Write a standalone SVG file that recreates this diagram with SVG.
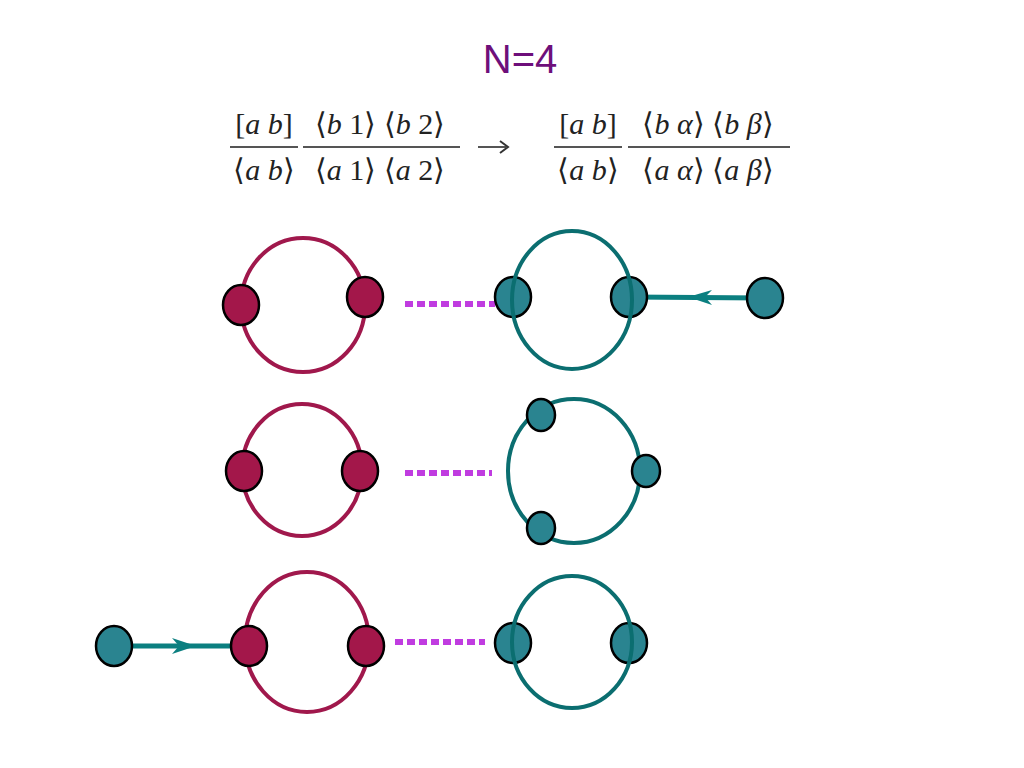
<svg xmlns="http://www.w3.org/2000/svg" width="1024" height="768" viewBox="0 0 1024 768">
<defs>
<style>
.rr{fill:none;stroke:#a0184c;stroke-width:4}
.tr{fill:none;stroke:#0b6e70;stroke-width:4}
.rd{fill:#a3174a;stroke:#000;stroke-width:2.5}
.td{fill:#2a8490;stroke:#000;stroke-width:2.5}
.dl{stroke:#c03ce0;stroke-width:6;stroke-dasharray:8,4}
.ar{stroke:#0b7f80;stroke-width:5}
.f{font-family:"Liberation Serif",serif;font-size:30px;fill:#222}
.fl{stroke:#555;stroke-width:2}
</style>
</defs>
<rect width="1024" height="768" fill="#fff"/>
<text x="520" y="73" text-anchor="middle" font-family="Liberation Sans,Arial,sans-serif" font-size="40" fill="#6e0f7a">N=4</text>
<g id="formula">
<text class="f" x="264" y="134" text-anchor="middle">[<tspan font-style="italic">a b</tspan>]</text>
<line class="fl" x1="230" y1="147" x2="298" y2="147"/>
<text class="f" x="264" y="180" text-anchor="middle">⟨<tspan font-style="italic">a b</tspan>⟩</text>
<text class="f" x="380" y="134" text-anchor="middle">⟨<tspan font-style="italic">b</tspan> 1⟩ ⟨<tspan font-style="italic">b</tspan> 2⟩</text>
<line class="fl" x1="303" y1="147" x2="460" y2="147"/>
<text class="f" x="380" y="180" text-anchor="middle">⟨<tspan font-style="italic">a</tspan> 1⟩ ⟨<tspan font-style="italic">a</tspan> 2⟩</text>
<line class="fl" x1="478" y1="147" x2="506" y2="147"/>
<path d="M500,141 L508,147 L500,153" fill="none" stroke="#333" stroke-width="2"/>
<text class="f" x="588" y="134" text-anchor="middle">[<tspan font-style="italic">a b</tspan>]</text>
<line class="fl" x1="554" y1="147" x2="622" y2="147"/>
<text class="f" x="588" y="180" text-anchor="middle">⟨<tspan font-style="italic">a b</tspan>⟩</text>
<text class="f" x="708" y="134" text-anchor="middle">⟨<tspan font-style="italic">b α</tspan>⟩ ⟨<tspan font-style="italic">b β</tspan>⟩</text>
<line class="fl" x1="628" y1="147" x2="790" y2="147"/>
<text class="f" x="708" y="180" text-anchor="middle">⟨<tspan font-style="italic">a α</tspan>⟩ ⟨<tspan font-style="italic">a β</tspan>⟩</text>
</g>
<g id="connectors">
<line class="dl" x1="405" y1="304" x2="495" y2="304"/>
<line class="dl" x1="405" y1="473" x2="492" y2="473"/>
<line class="dl" x1="395" y1="642" x2="485" y2="642"/>
<line class="ar" x1="630" y1="297" x2="765" y2="298"/>
<path d="M712,290 L688,297 L712,305 L705,297Z" fill="#0b7f80"/>
<line class="ar" x1="118" y1="646" x2="248" y2="646"/>
<path d="M172,638 L196,646 L172,654 L179,646Z" fill="#0b7f80"/>
</g>
<g id="row1-left"><ellipse class="rr" cx="303" cy="305" rx="62" ry="67"/><ellipse class="rd" cx="241" cy="305" rx="18" ry="20"/><ellipse class="rd" cx="365" cy="297" rx="18" ry="20"/></g>
<g id="row1-right"><ellipse class="td" cx="513" cy="297" rx="18" ry="20"/><ellipse class="td" cx="629" cy="297" rx="18" ry="20"/><ellipse class="tr" cx="572" cy="300" rx="60" ry="69"/><ellipse class="td" cx="765" cy="298" rx="18" ry="20"/></g>
<g id="row2-left"><ellipse class="rr" cx="302" cy="470" rx="60" ry="66"/><ellipse class="rd" cx="244" cy="471" rx="18" ry="20"/><ellipse class="rd" cx="360" cy="471" rx="18" ry="20"/></g>
<g id="row2-right"><ellipse class="tr" cx="574" cy="471" rx="66" ry="72"/><ellipse class="td" cx="541" cy="415" rx="14" ry="16"/><ellipse class="td" cx="646" cy="471" rx="14" ry="16"/><ellipse class="td" cx="541" cy="528" rx="14" ry="16"/></g>
<g id="row3-left"><ellipse class="td" cx="114" cy="646" rx="18" ry="20"/><ellipse class="rr" cx="307" cy="642" rx="62" ry="70"/><ellipse class="rd" cx="249" cy="646" rx="18" ry="20"/><ellipse class="rd" cx="366" cy="646" rx="18" ry="20"/></g>
<g id="row3-right"><ellipse class="td" cx="513" cy="643" rx="18" ry="20"/><ellipse class="td" cx="629" cy="643" rx="18" ry="20"/><ellipse class="tr" cx="572" cy="642" rx="60" ry="66"/></g>
</svg>
